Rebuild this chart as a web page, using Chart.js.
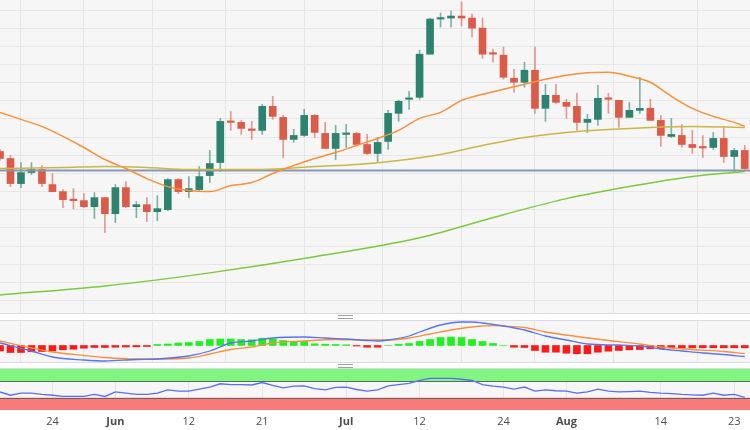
<!DOCTYPE html>
<html>
<head>
<meta charset="utf-8">
<script src="https://cdn.jsdelivr.net/npm/chart.js@4.4.0/dist/chart.umd.min.js"></script>
<style>
  body { margin: 0; background: #fff; }
  #wrap { position: relative; width: 750px; height: 430px; overflow: hidden; background: #fff; }
  canvas { position: absolute; left: 0; }
  .edge { position: absolute; left: 0; width: 750px; height: 1px; background: #d9dce4; }
  .grip { position: absolute; left: 338px; width: 15px; height: 2px; border-top: 1px solid #a0a0a0; border-bottom: 1px solid #a0a0a0; }
</style>
</head>
<body>
<div id="wrap">
  <canvas id="main" width="750" height="313" style="top:0"></canvas>
  <canvas id="macd" width="750" height="41" style="top:321px"></canvas>
  <canvas id="rsi" width="750" height="61" style="top:369px"></canvas>
  <div class="edge" style="top:313px"></div>
  <div class="edge" style="top:320px"></div>
  <div class="edge" style="top:362px"></div>
  <div class="edge" style="top:368px"></div>
  <div class="grip" style="top:315px"></div>
  <div class="grip" style="top:364px"></div>
</div>
<script>
// x axis: one step per trading day, May 17 .. Aug 24
const tickIdx = [5, 11, 18, 25, 33, 40, 48, 54, 63, 70];
const tickText = ['24', 'Jun', '12', '21', 'Jul', '12', '24', 'Aug', '14', '23'];
const months = ['Jun', 'Jul', 'Aug'];

// price grid levels (no labels shown)
const priceGrid = [20.4, 38.5, 56.6, 74.7, 92.8, 110.9, 129, 147.1, 165.2, 183.3, 201.4, 219.5, 237.6, 255.7, 273.8, 291.9, 310];

const open = [
  169, 162, 137, 148, 151, 136, 129, 121, 120, 114,
  123, 107, 133, 114, 116, 109, 111, 141, 129, 131,
  145, 158, 199, 198, 191, 190, 214, 203, 181, 185,
  205, 187, 172, 186, 187, 176, 167, 179, 207, 221,
  223, 266, 301, 302, 304, 302, 292, 267, 265, 242,
  238, 250, 212, 225, 218, 214, 198, 201, 222, 220,
  203, 210, 212, 200, 184, 185, 176, 173, 173, 182,
  164, 170
];
const high = [
  171, 165, 158, 158, 155, 147, 131, 132, 127, 128,
  123, 136, 139, 119, 123, 125, 142, 142, 144, 154,
  170, 202, 209, 200, 199, 216, 224, 205, 191, 211,
  206, 198, 195, 196, 188, 186, 183, 210, 220, 229,
  270, 302, 307, 309, 318, 306, 302, 271, 273, 251,
  258, 273, 236, 236, 221, 227, 206, 235, 227, 220,
  218, 243, 221, 205, 202, 196, 190, 185, 188, 194,
  172, 175
];
const low = [
  160, 134, 133, 146, 134, 129, 113, 112, 113, 102,
  88, 98, 113, 103, 99, 100, 110, 127, 123, 130,
  138, 149, 190, 186, 181, 186, 201, 163, 178, 184,
  183, 172, 161, 173, 176, 166, 159, 171, 199, 211,
  221, 266, 293, 293, 294, 283, 262, 258, 241, 228,
  233, 207, 199, 217, 202, 190, 188, 195, 207, 193,
  203, 207, 200, 174, 183, 173, 167, 163, 171, 158,
  148, 151
];
const close = [
  162, 137, 148, 151, 137, 129, 121, 120, 114, 123,
  107, 133, 114, 116, 109, 112, 141, 129, 132, 144,
  157, 199, 198, 192, 190, 214, 204, 181, 185, 205,
  188, 172, 187, 187, 176, 167, 178, 207, 219, 222,
  266, 301, 302, 304, 302, 292, 266, 266, 243, 238,
  250, 212, 225, 218, 214, 198, 201, 222, 221, 203,
  210, 212, 200, 185, 186, 176, 173, 172.5, 182, 164,
  170, 152
];

// moving averages, read at selected days
const ma20Idx = [0, 2, 4, 6, 8, 10, 12, 14, 16, 18, 20, 22, 24, 26, 28, 30, 32, 34, 36, 38, 40, 42, 44, 46, 48, 50, 52, 54, 56, 58, 60, 62, 64, 66, 68, 70, 71];
const ma20 = [208, 201, 194, 184, 173, 161, 152, 142, 134, 130, 129, 135, 138, 147, 155, 162, 168, 175, 182, 190, 202, 208, 220, 226, 231, 236, 241, 245, 247.5, 248, 244, 238, 224, 212, 204, 198, 194];
const ma50Idx = [0, 6, 10, 14, 18, 25, 30, 34, 38, 42, 46, 50, 54, 58, 62, 66, 71];
const ma50 = [152, 153, 154, 153, 151, 151, 154, 156, 160, 166, 175, 183, 188, 191, 193, 194, 193];
const ma200Idx = [0, 10, 20, 30, 40, 48, 54, 60, 66, 71];
const ma200 = [26, 35, 48, 64, 83, 106, 122, 134, 144, 149];
const levelLine = 150;

// MACD panel
const macdIdx = [0, 3, 5, 8, 10, 13, 15, 18, 20, 22, 24, 26, 29, 31, 33, 35, 36, 37, 39, 40, 42, 44, 45, 46, 48, 50, 52, 54, 56, 59, 61, 63, 65, 67, 69, 71];
const macd = [2.5, -5.5, -11.5, -14.5, -15.5, -14, -13.5, -10.5, -5.5, 2.5, 4.5, 7.5, 8.5, 7.5, 6.5, 5, 4.5, 5.5, 9.5, 13.5, 20.5, 23.5, 23.5, 22.5, 19.5, 15.5, 9.5, 5.5, 1.5, 0.5, -0.5, -3.5, -5.5, -7.5, -9, -11];
const signalIdx = [0, 3, 5, 8, 10, 13, 15, 18, 20, 22, 24, 26, 29, 32, 35, 37, 39, 41, 43, 45, 47, 48, 50, 52, 55, 58, 61, 63, 66, 69, 71];
const signal = [4.5, -2.5, -6.5, -10, -12, -13.5, -13.5, -12.5, -8.5, -4, -1.5, 2.5, 4.5, 6, 5.5, 5.5, 7.5, 11.5, 15.5, 18.5, 20, 19.5, 18, 13.5, 9, 5, 1.5, -1.5, -4, -6, -8];
const hist = [
  -5.5, -7, -7, -6.3, -6, -5.5, -4.3, -3.7, -2.7, -2,
  -2, -1.7, -1.5, -1.3, -1, 1, 1.5, 2.5, 3, 4,
  6, 6.5, 6.5, 6, 5.7, 7.3, 6.7, 5, 4, 4,
  1.7, 1.3, 1, 0.7, -0.5, -1.7, -1.7, 0, 1.3, 2,
  4, 6, 8, 8.5, 8, 6, 4, 2, 0, -1.7,
  -2, -5, -6.7, -6.7, -7.7, -8.3, -8.3, -6.7, -5.7, -5,
  -4.3, -4, -3.3, -3, -2.3, -2.3, -2.3, -2.3, -2.3, -2.3,
  -2.3, -2.3
];

// RSI panel
const rsi = [
  44, 36, 41, 41, 38, 36, 33, 33, 33, 38,
  33, 44, 41, 38, 38, 41, 49, 46, 46, 51,
  56, 64, 62, 62, 61, 67, 60, 54, 58, 59,
  52, 49, 55, 56, 50, 46, 49, 59, 62, 65,
  72, 77, 77, 77, 75, 72, 62, 58, 56, 51,
  56, 46, 49, 47, 46, 41, 44, 51, 46, 44,
  45, 46, 43, 41, 40, 38, 37, 36, 41, 36,
  38, 31
];

const UP = '#2e8370', DOWN = '#dc5a48';
const UP_WICK = 'rgba(46,131,112,0.6)', DOWN_WICK = 'rgba(220,90,72,0.6)';

const days = open.map((_, i) => i);
const isUp = days.map(i => close[i] >= open[i]);
const pts = (idx, vals) => idx.map((x, k) => ({ x, y: vals[k] }));

const panelBg = {
  id: 'panelBg',
  beforeDraw(chart) {
    const { ctx, chartArea: a } = chart;
    ctx.save();
    ctx.fillStyle = '#f6f6f6';
    ctx.fillRect(a.left, a.top, a.width, a.height);
    ctx.restore();
  }
};

const rsiBands = {
  id: 'rsiBands',
  beforeDatasetsDraw(chart) {
    const { ctx, chartArea: a, scales: { y } } = chart;
    const band = (from, to, color) => {
      const t = y.getPixelForValue(to), b = y.getPixelForValue(from);
      ctx.fillStyle = color;
      ctx.fillRect(a.left, t, a.width, b - t);
    };
    ctx.save();
    band(70, 100, '#80f57f');
    band(0, 30, '#f77b7b');
    ctx.strokeStyle = '#666';
    ctx.lineWidth = 1;
    [70, 30].forEach(v => {
      const p = Math.round(y.getPixelForValue(v)) + 0.5;
      ctx.beginPath();
      ctx.moveTo(a.left, p);
      ctx.lineTo(a.right, p);
      ctx.stroke();
    });
    ctx.restore();
  }
};

function xScale(showTicks) {
  return {
    type: 'linear',
    min: 0,
    max: 71.5,
    offset: false,
    border: { display: false },
    grid: { color: '#e6e6e6', drawTicks: false },
    ticks: {
      display: showTicks,
      padding: 5,
      color: '#4d4d4d',
      font: ctx => ({ family: 'Open Sans', size: 11, weight: months.includes(tickText[ctx.index]) ? 'bold' : 'normal' }),
      callback: (v, i) => tickText[i]
    },
    afterBuildTicks: axis => { axis.ticks = tickIdx.map(v => ({ value: v })); },
    afterFit: axis => {
      axis.height = showTicks ? 20 : 0;
      axis.paddingLeft = 0;
      axis.paddingRight = 0;
    }
  };
}

function yScale(min, max, gridTicks) {
  return {
    type: 'linear',
    min,
    max,
    border: { display: false },
    grid: { display: !!gridTicks, color: '#e6e6e6', drawTicks: false },
    ticks: { display: false },
    afterBuildTicks: axis => { if (gridTicks) axis.ticks = gridTicks.map(v => ({ value: v })); },
    afterFit: axis => {
      axis.width = 0;
      axis.paddingTop = 0;
      axis.paddingBottom = 0;
    }
  };
}

const baseOptions = {
  responsive: false,
  animation: false,
  layout: { padding: 0 },
  plugins: { legend: { display: false }, tooltip: { enabled: false } }
};

const lineStyle = (color, width) => ({
  type: 'line',
  borderColor: color,
  borderWidth: width,
  pointRadius: 0,
  cubicInterpolationMode: 'monotone',
  order: 0
});

new Chart(document.getElementById('main'), {
  type: 'bar',
  data: {
    datasets: [
      { ...lineStyle('#f7913d', 1.5), data: pts(ma20Idx, ma20) },
      { ...lineStyle('#cbb646', 1.5), data: pts(ma50Idx, ma50) },
      { ...lineStyle('#7cc93e', 1.5), data: pts(ma200Idx, ma200) },
      { ...lineStyle('#8797b2', 2), data: [{ x: 0, y: levelLine }, { x: 71.5, y: levelLine }] },
      {
        data: days.map(i => ({ x: i, y: [Math.min(open[i], close[i]), Math.max(open[i], close[i])] })),
        backgroundColor: days.map(i => isUp[i] ? UP : DOWN),
        barThickness: 7,
        minBarLength: 1.5,
        grouped: false,
        order: 1
      },
      {
        data: days.map(i => ({ x: i, y: [low[i], high[i]] })),
        backgroundColor: days.map(i => isUp[i] ? UP_WICK : DOWN_WICK),
        barThickness: 1,
        grouped: false,
        order: 2
      }
    ]
  },
  options: {
    ...baseOptions,
    scales: { x: xScale(false), y: yScale(8, 320, priceGrid) }
  },
  plugins: [panelBg]
});

new Chart(document.getElementById('macd'), {
  type: 'bar',
  data: {
    datasets: [
      { ...lineStyle('#5874f2', 1.3), data: pts(macdIdx, macd) },
      { ...lineStyle('#f7913d', 1.3), data: pts(signalIdx, signal) },
      {
        data: days.map(i => ({ x: i, y: hist[i] })),
        backgroundColor: days.map(i => hist[i] >= 0 ? '#22ee22' : '#ff1a1a'),
        barThickness: 7,
        grouped: false,
        order: 1
      }
    ]
  },
  options: {
    ...baseOptions,
    scales: { x: xScale(false), y: yScale(-16.5, 24.5, null) }
  },
  plugins: [panelBg]
});

new Chart(document.getElementById('rsi'), {
  type: 'line',
  data: {
    datasets: [
      { ...lineStyle('#5a6ff0', 1.3), data: days.map(i => ({ x: i, y: rsi[i] })), cubicInterpolationMode: 'default', tension: 0 }
    ]
  },
  options: {
    ...baseOptions,
    scales: { x: xScale(true), y: yScale(0, 100, null) }
  },
  plugins: [panelBg, rsiBands]
});
</script>
</body>
</html>
